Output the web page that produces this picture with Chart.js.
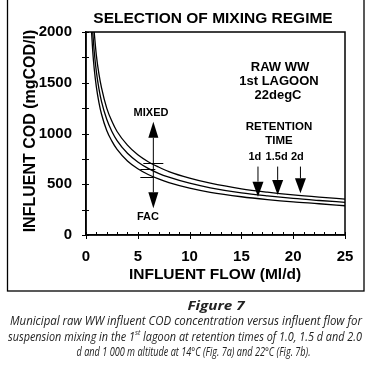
<!DOCTYPE html>
<html>
<head>
<meta charset="utf-8">
<script src="https://cdn.jsdelivr.net/npm/chart.js@4.4.0/dist/chart.umd.min.js"></script>
<style>
html,body{margin:0;padding:0;background:#fff;}
#wrap{width:370px;height:370px;position:relative;}
</style>
</head>
<body>
<div id="wrap"><canvas id="c" width="370" height="370"></canvas></div>
<script>
// ---- data ----
const flowTop = [0.75, 1, 1.25, 1.5, 2, 2.5, 3, 4, 5, 6, 7, 8, 10, 12, 15, 17.5, 20, 22.5, 25];
const codTop  = [2045, 1770, 1585, 1450, 1250, 1120, 1020, 885, 790, 722, 670, 625, 560, 510, 455, 422, 395, 373, 354];
const flowMid = [0.62, 0.8, 1, 1.25, 1.5, 2, 2.5, 3, 4, 5, 6, 7, 8, 10, 12, 15, 17.5, 20, 22.5, 25];
const codMid  = [2045, 1800, 1610, 1440, 1315, 1140, 1020, 930, 805, 720, 657, 608, 570, 510, 465, 415, 385, 360, 340, 322];
const flowBot = [0.5, 0.65, 0.8, 1, 1.25, 1.5, 2, 2.5, 3, 4, 5, 6, 7, 8, 10, 12, 15, 17.5, 20, 22.5, 25];
const codBot  = [2065, 1810, 1630, 1460, 1305, 1190, 1030, 925, 843, 730, 653, 596, 552, 516, 462, 421, 377, 349, 326, 308, 288];

const xTicks = [0, 5, 10, 15, 20, 25];
const yTicks = [0, 500, 1000, 1500, 2000];

// annotations (data units)
const retentionLabels = ['1d', '1.5d', '2d'];
const retentionFlow = [16.6, 18.5, 20.7];
const retentionLabelFlow = [16.3, 18.4, 20.4];
const retentionTip = [378, 395, 412];
const retentionStart = 674;
const mixFlow = 6.5;
const mixTopTip = 1116;
const mixBottomTip = 263;
const mixMarks = [708, 649, 576];

const chartTitle = 'SELECTION OF MIXING REGIME';
const xTitle = 'INFLUENT FLOW (Ml/d)';
const yTitle = 'INFLUENT COD (mgCOD/l)';
const infoLines = ['RAW WW', '1st LAGOON', '22degC'];

const toPts = (xs, ys) => xs.map((x, i) => ({x: x, y: ys[i]}));

const FONT = "'Liberation Sans', Arial, sans-serif";

function arrow(ctx, x, y0, y1, headW, headH) {
  const dir = y1 > y0 ? 1 : -1;
  ctx.beginPath();
  ctx.moveTo(x, y0);
  ctx.lineTo(x, y1 - dir * headH);
  ctx.stroke();
  ctx.beginPath();
  ctx.moveTo(x, y1);
  ctx.lineTo(x - headW / 2, y1 - dir * headH);
  ctx.lineTo(x + headW / 2, y1 - dir * headH);
  ctx.closePath();
  ctx.fill();
}

function segWidth(ctx, segs) {
  let w = 0;
  segs.forEach(s => { ctx.font = s.font; s.w = ctx.measureText(s.text).width; w += s.w; });
  return w;
}
function fitLine(ctx, segs, cx, y, target) {
  const k = target / segWidth(ctx, segs);
  ctx.save();
  ctx.translate(cx - target / 2, y);
  ctx.scale(k, 1);
  let x = 0;
  segs.forEach(s => { ctx.font = s.font; ctx.fillText(s.text, x, s.dy || 0); x += s.w; });
  ctx.restore();
}

const decor = {
  id: 'decor',
  afterDraw(chart) {
    const ctx = chart.ctx;
    const xs = chart.scales.x, ys = chart.scales.y;
    const a = chart.chartArea;
    ctx.save();
    ctx.strokeStyle = '#000';
    ctx.fillStyle = '#000';
    // outer frame
    ctx.lineWidth = 1.3;
    ctx.strokeRect(7.5, -2, 356.5, 293);
    // plot box
    ctx.lineWidth = 1.5;
    ctx.strokeRect(a.left, a.top, a.right - a.left, a.bottom - a.top);
    // ticks
    ctx.lineWidth = 1;
    for (let v = 0; v <= 25; v++) {
      const px = Math.round(xs.getPixelForValue(v)) + 0.5;
      ctx.beginPath();
      ctx.moveTo(px, a.bottom - 3);
      ctx.lineTo(px, a.bottom + (v % 5 === 0 ? 4 : 0));
      ctx.stroke();
    }
    for (let v = 0; v <= 2000; v += 250) {
      const py = Math.round(ys.getPixelForValue(v)) + 0.5;
      ctx.beginPath();
      ctx.moveTo(a.left - 4, py);
      ctx.lineTo(a.left + 3, py);
      ctx.stroke();
    }
    // title
    ctx.textAlign = 'center';
    ctx.textBaseline = 'middle';
    ctx.font = 'bold 15.5px ' + FONT;
    ctx.fillText(chartTitle, 213, 19);
    // axis titles
    ctx.fillText(xTitle, 215, 275);
    ctx.save();
    ctx.translate(31, 131);
    ctx.rotate(-Math.PI / 2);
    ctx.font = 'bold 16px ' + FONT;
    ctx.fillText(yTitle, 0, 0);
    ctx.restore();
    // info block
    ctx.font = 'bold 13px ' + FONT;
    ctx.fillText(infoLines[0], 280, 67);
    ctx.fillText(infoLines[1], 279, 81);
    ctx.fillText(infoLines[2], 278, 95);
    // retention
    ctx.font = 'bold 11.5px ' + FONT;
    ctx.fillText('RETENTION', 279, 127);
    ctx.fillText('TIME', 279, 141);
    ctx.font = 'bold 11px ' + FONT;
    ctx.lineWidth = 1;
    retentionFlow.forEach((f, i) => {
      const px = xs.getPixelForValue(f);
      ctx.fillText(retentionLabels[i], xs.getPixelForValue(retentionLabelFlow[i]), 156.5);
      arrow(ctx, px, ys.getPixelForValue(retentionStart), ys.getPixelForValue(retentionTip[i]), 11, 15);
    });
    // mixing double arrow
    const mx = xs.getPixelForValue(mixFlow);
    const mid = ys.getPixelForValue(mixMarks[1]);
    arrow(ctx, mx, mid, ys.getPixelForValue(mixTopTip), 10, 16);
    arrow(ctx, mx, mid, ys.getPixelForValue(mixBottomTip), 10, 16);
    ctx.beginPath();
    let py = Math.round(ys.getPixelForValue(mixMarks[0])) + 0.5;
    ctx.moveTo(mx - 10, py); ctx.lineTo(mx + 10, py);
    py = Math.round(ys.getPixelForValue(mixMarks[1])) + 0.5;
    ctx.moveTo(mx - 13, py); ctx.lineTo(mx + 2, py);
    py = Math.round(ys.getPixelForValue(mixMarks[2])) + 0.5;
    ctx.moveTo(mx - 13, py); ctx.lineTo(mx + 0, py);
    ctx.stroke();
    ctx.font = 'bold 11px ' + FONT;
    ctx.fillText('MIXED', 151, 113);
    ctx.fillText('FAC', 148, 217);
    // caption
    ctx.fillStyle = '#222';
    ctx.textAlign = 'left';
    ctx.textBaseline = 'middle';
    const cf = "italic 12.5px 'Open Sans', sans-serif";
    const cfs = "italic 8px 'Open Sans', sans-serif";
    fitLine(ctx, [{text: 'Figure 7', font: "italic bold 13px 'Open Sans', sans-serif"}], 216, 306, 57);
    fitLine(ctx, [{text: 'Municipal raw WW influent COD concentration versus influent flow for', font: cf}], 186, 321, 352);
    fitLine(ctx, [
      {text: 'suspension mixing in the 1', font: cf},
      {text: 'st', font: cfs, dy: -4},
      {text: ' lagoon at retention times of 1.0, 1.5 d and 2.0', font: cf}
    ], 185, 337, 354);
    fitLine(ctx, [{text: 'd and 1 000 m altitude at 14\u00B0C (Fig. 7a) and 22\u00B0C (Fig. 7b).', font: cf}], 193.5, 352, 234);
    ctx.restore();
  }
};

const lineStyle = {
  showLine: true, pointRadius: 0, borderColor: '#000', borderWidth: 1.3,
  fill: false, cubicInterpolationMode: 'monotone'
};

new Chart(document.getElementById('c'), {
  type: 'scatter',
  data: {
    datasets: [
      Object.assign({label: 'top', data: toPts(flowTop, codTop)}, lineStyle),
      Object.assign({label: 'mid', data: toPts(flowMid, codMid)}, lineStyle),
      Object.assign({label: 'bot', data: toPts(flowBot, codBot)}, lineStyle)
    ]
  },
  options: {
    responsive: false,
    devicePixelRatio: 1,
    animation: false,
    layout: {padding: {top: 32, right: 25, left: 0, bottom: 0}},
    plugins: {legend: {display: false}, tooltip: {enabled: false}, title: {display: false}},
    scales: {
      x: {
        type: 'linear', min: 0, max: 25,
        afterBuildTicks: s => { s.ticks = xTicks.map(v => ({value: v})); },
        afterFit: s => { s.height = 135; },
        ticks: {color: '#000', padding: 13, maxRotation: 0, callback: v => String(v),
                font: {family: FONT, size: 15, weight: 'bold'}},
        grid: {display: false, drawTicks: false},
        border: {display: true, color: '#000', width: 1.5}
      },
      y: {
        type: 'linear', min: 0, max: 2000,
        afterBuildTicks: s => { s.ticks = yTicks.map(v => ({value: v})); },
        afterFit: s => { s.width = 86; },
        ticks: {color: '#000', padding: 14, callback: v => String(v),
                font: {family: FONT, size: 15, weight: 'bold'}},
        grid: {display: false, drawTicks: false},
        border: {display: true, color: '#000', width: 1.5}
      }
    }
  },
  plugins: [decor]
});
</script>
</body>
</html>
